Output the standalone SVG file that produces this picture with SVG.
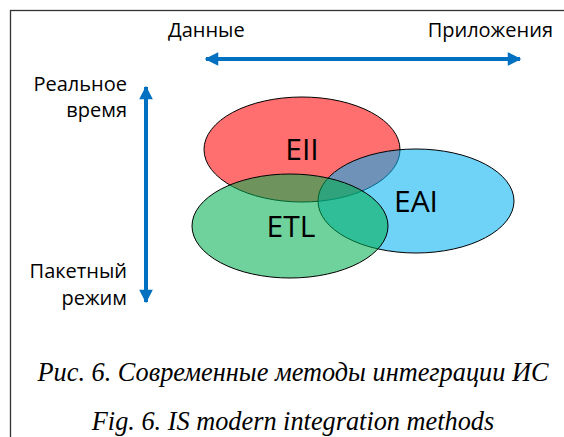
<svg xmlns="http://www.w3.org/2000/svg" width="564" height="437" viewBox="0 0 564 437">
  <style>
    .lbl { font-family: "Open Sans", "Liberation Sans", sans-serif; font-size: 20px; fill: #000; }
    .big { font-family: "Open Sans", "Liberation Sans", sans-serif; font-size: 30px; fill: #000; text-anchor: middle; }
    .cap { font-family: "Liberation Serif", "Times New Roman", serif; font-style: italic; font-size: 26.3px; fill: #000; text-anchor: middle; }
    .set { fill-opacity: 0.565; stroke: #000; stroke-width: 1; }
    .axis { stroke: #0070C0; stroke-width: 4; fill: none; }
  </style>
  <defs>
    <marker id="head" viewBox="0 0 10 10" refX="9" refY="5" markerWidth="4" markerHeight="3.4" orient="auto-start-reverse" markerUnits="strokeWidth">
      <path d="M0,0 L10,5 L0,10 Z" fill="#0070C0"/>
    </marker>
  </defs>
  <rect width="564" height="437" fill="#fff"/>
  <!-- frame -->
  <rect x="10.5" y="10.5" width="600" height="500" fill="none" stroke="#333" stroke-width="1.3"/>

  <!-- axes -->
  <g id="connectors">
    <line class="axis" x1="206" y1="59" x2="520" y2="59" marker-start="url(#head)" marker-end="url(#head)"/>
    <line class="axis" x1="146" y1="87" x2="146" y2="302" marker-start="url(#head)" marker-end="url(#head)"/>
  </g>

  <g id="axis-labels">
    <text class="lbl" x="168" y="37">Данные</text>
    <text class="lbl" x="553" y="37" text-anchor="end">Приложения</text>
    <text class="lbl" x="127" y="91" text-anchor="end">Реальное</text>
    <text class="lbl" x="127" y="117" text-anchor="end">время</text>
    <text class="lbl" x="127" y="278" text-anchor="end">Пакетный</text>
    <text class="lbl" x="127" y="305" text-anchor="end">режим</text>
  </g>

  <!-- overlapping integration methods -->
  <g id="eii">
    <ellipse class="set" cx="302" cy="149.5" rx="98" ry="52.5" fill="#FF0000"/>
  </g>
  <g id="eai">
    <ellipse class="set" cx="416" cy="201" rx="98" ry="52" fill="#00B0F0"/>
  </g>
  <g id="etl">
    <ellipse class="set" cx="290" cy="226" rx="98" ry="52" fill="#00B050"/>
  </g>
  <g id="set-labels">
    <text class="big" x="302" y="160">EII</text>
    <text class="big" x="416" y="212">EAI</text>
    <text class="big" x="291" y="237">ETL</text>
  </g>

  <g id="caption">
    <text class="cap" x="293" y="381">Рис. 6. Современные методы интеграции ИС</text>
    <text class="cap" x="293" y="430">Fig. 6. IS modern integration methods</text>
  </g>
</svg>
